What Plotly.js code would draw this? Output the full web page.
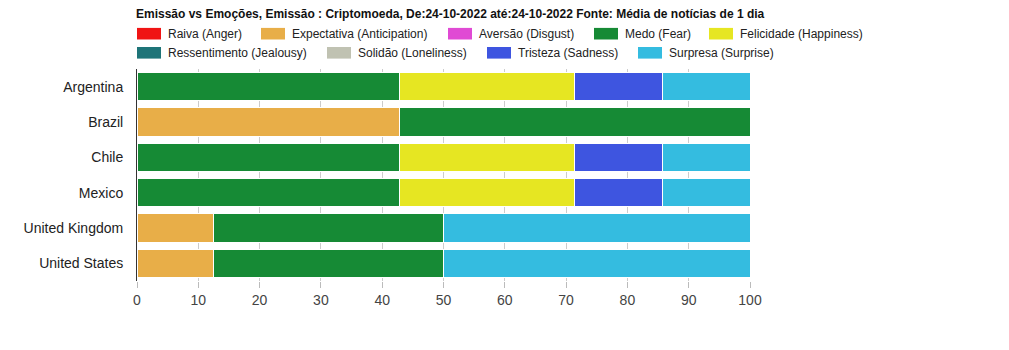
<!DOCTYPE html>
<html><head><meta charset="utf-8">
<script src="https://cdn.plot.ly/plotly-3.0.1.min.js"></script>
<style>body{margin:0;background:#fff}#chart{width:1009px;height:350px}</style>
</head><body><div id="chart"></div>
<script>
const countries = ["Argentina","Brazil","Chile","Mexico","United Kingdom","United States"];
const emotions = ["Raiva (Anger)","Expectativa (Anticipation)","Aversão (Disgust)","Medo (Fear)","Felicidade (Happiness)","Ressentimento (Jealousy)","Solidão (Loneliness)","Tristeza (Sadness)","Surpresa (Surprise)"];
const colors = ["#f01414","#e8ae48","#e04ad4","#168a35","#e6e622","#1e7478","#c0c2b2","#3e55e0","#34bce0"];
const raiva        = [0,0,0,0,0,0];
const expectativa  = [0,42.86,0,0,12.5,12.5];
const aversao      = [0,0,0,0,0,0];
const medo         = [42.86,57.14,42.86,42.86,37.5,37.5];
const felicidade   = [28.57,0,28.57,28.57,0,0];
const ressentimento= [0,0,0,0,0,0];
const solidao      = [0,0,0,0,0,0];
const tristeza     = [14.29,0,14.29,14.29,0,0];
const surpresa     = [14.29,0,14.29,14.29,50,50];
const series = [raiva,expectativa,aversao,medo,felicidade,ressentimento,solidao,tristeza,surpresa];
const title = "Emissão vs Emoções, Emissão : Criptomoeda, De:24-10-2022 até:24-10-2022 Fonte: Média de notícias de 1 dia";
const xTicks = [0,10,20,30,40,50,60,70,80,90,100];

const REG = '"Liberation Sans", Arial, sans-serif';

const traces = series.map((vals,i)=>({
  type:'bar', orientation:'h', name:emotions[i], x:vals, y:countries,
  marker:{color:colors[i], line:{color:'#ffffff', width:1}},
  hoverinfo:'x+name', showlegend:false
}));

const W=1009,H=350,mL=137,mR=259,mT=69,mB=69;
const pw=W-mL-mR, ph=H-mT-mB;
const px = x => (x-mL)/pw;
const py = y => 1-(y-mT)/ph;
// legend drawn as a flow layout like the original
const legendRows=[[0,1,2,3,4],[5,6,7,8]];
const legendX=[[137,261,448,594,709],[137,327,487,638]];
const legendY=[33.7,52.8];
const shapes=[], annotations=[];
legendRows.forEach((row,r)=>row.forEach((k,j)=>{
  const x0=legendX[r][j];
  shapes.push({type:'rect',xref:'paper',yref:'paper',x0:px(x0),x1:px(x0+24),y0:py(legendY[r]+5.8),y1:py(legendY[r]-5.8),fillcolor:colors[k],line:{width:0}});
  annotations.push({xref:'paper',yref:'paper',x:px(x0+28.5),y:py(legendY[r]),xanchor:'left',yanchor:'middle',text:emotions[k],showarrow:false,font:{family:REG,size:12,color:'#222'}});
}));

const layout = {
  width:W,height:H,barmode:'stack',bargap:0.2,
  margin:{l:mL,r:mR,t:mT,b:mB},
  paper_bgcolor:'#fff',plot_bgcolor:'#fff',
  font:{family:REG,size:13,color:'#333'},
  title:{text:'<b>'+title+'</b>',x:136/W,xanchor:'left',y:1-14/H,yanchor:'middle',font:{family:REG,size:12,color:'#111'}},
  xaxis:{range:[0,100],tickvals:xTicks,ticktext:xTicks.map(String),showgrid:true,gridcolor:'#cccccc',gridwidth:1,
         zeroline:false,showline:false,ticks:'outside',ticklen:6,tickcolor:'#bbbbbb',tickfont:{family:REG,size:14,color:'#444'},fixedrange:true},
  yaxis:{autorange:'reversed',showline:true,linecolor:'#333',linewidth:1,ticks:'',ticklen:0,ticklabelstandoff:10,tickfont:{family:REG,size:14,color:'#222'},showgrid:false},
  shapes:shapes, annotations:annotations, showlegend:false
};
Plotly.newPlot('chart',traces,layout,{displayModeBar:false,staticPlot:true});
</script></body></html>
